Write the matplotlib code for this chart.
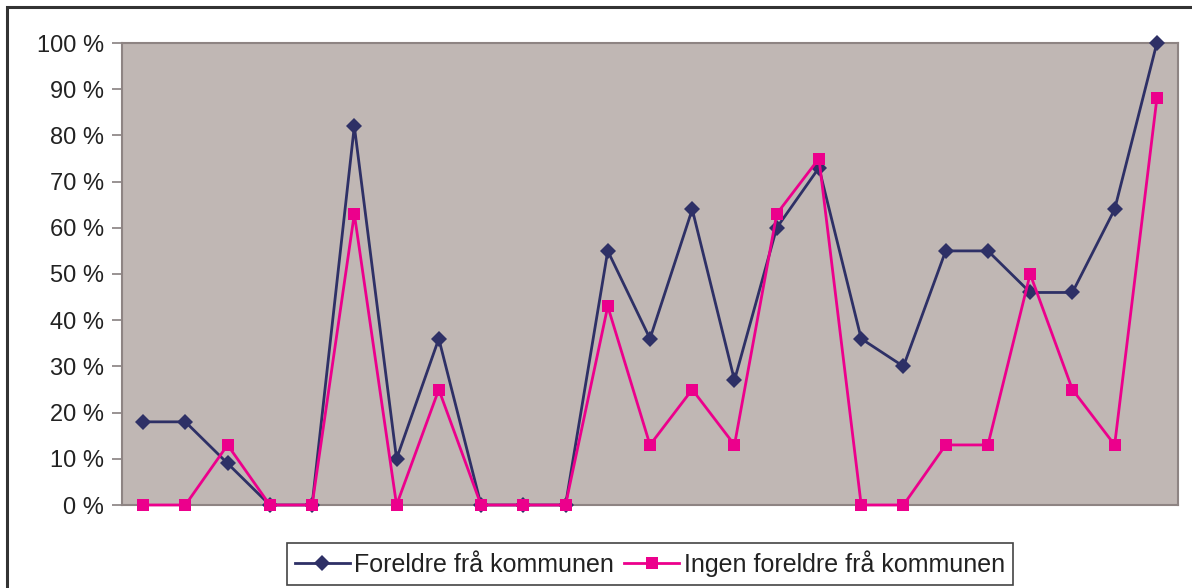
import matplotlib.pyplot as plt
from matplotlib.patches import Rectangle
from matplotlib.ticker import FixedLocator

plt.rcParams['font.family'] = ['Liberation Sans', 'DejaVu Sans']

# Share per category, in percent
foreldre = [18, 18, 9, 0, 0, 82, 10, 36, 0, 0, 0, 55, 36, 64, 27, 60, 73, 36, 30, 55, 55, 46, 46, 64, 100]
ingen_foreldre = [0, 0, 13, 0, 0, 63, 0, 25, 0, 0, 0, 43, 13, 25, 13, 63, 75, 0, 0, 13, 13, 50, 25, 13, 88]
series_labels = ["Foreldre frå kommunen", "Ingen foreldre frå kommunen"]
y_ticks = [0, 10, 20, 30, 40, 50, 60, 70, 80, 90, 100]

W, H = 1192, 588
fig = plt.figure(figsize=(W / 100, H / 100), dpi=100)

# outer chart frame (left and top edges visible)
fig.patches.append(Rectangle((7 / W, -0.1), 1.2, 1 - 7 / H + 0.1, transform=fig.transFigure,
                             fill=False, edgecolor='#333333', linewidth=2.2))

ax = fig.add_axes([122 / W, 1 - 505 / H, (1178 - 122) / W, (505 - 43) / H])
ax.set_facecolor('#C0B7B4')

x = list(range(len(foreldre)))
ax.plot(x, foreldre, color='#2E3066', linewidth=2, marker='D', markersize=8.5,
        markeredgewidth=0, label=series_labels[0], clip_on=False, zorder=3)
ax.plot(x, ingen_foreldre, color='#EC008C', linewidth=2, marker='s', markersize=9,
        markeredgewidth=0, label=series_labels[1], clip_on=False, zorder=4)

ax.set_xlim(-0.5, len(foreldre) - 0.5)
ax.set_ylim(0, 100)
ax.yaxis.set_major_locator(FixedLocator(y_ticks))
ax.set_yticklabels([f"{v} %" for v in y_ticks])
ax.set_xticks([])
ax.tick_params(axis='y', length=7, width=1.2, color='#888080', pad=6,
               labelsize=17, labelcolor='#222222')

for side in ['left', 'top', 'right', 'bottom']:
    ax.spines[side].set_color('#8E8483')
    ax.spines[side].set_linewidth(1.5)

leg = ax.legend(loc='upper center', bbox_to_anchor=(650 / W, 1 - 543 / H), bbox_transform=fig.transFigure,
                borderaxespad=0, ncol=2, frameon=True, fancybox=False, fontsize=18, handlelength=2.2,
                handletextpad=0.2, columnspacing=0.4, borderpad=0.3, labelcolor='#222222')
leg.get_frame().set_edgecolor('#444444')
leg.get_frame().set_facecolor('white')
leg.get_frame().set_alpha(1)
leg.get_frame().set_linewidth(1.2)

fig.savefig('out.png', dpi=100)
